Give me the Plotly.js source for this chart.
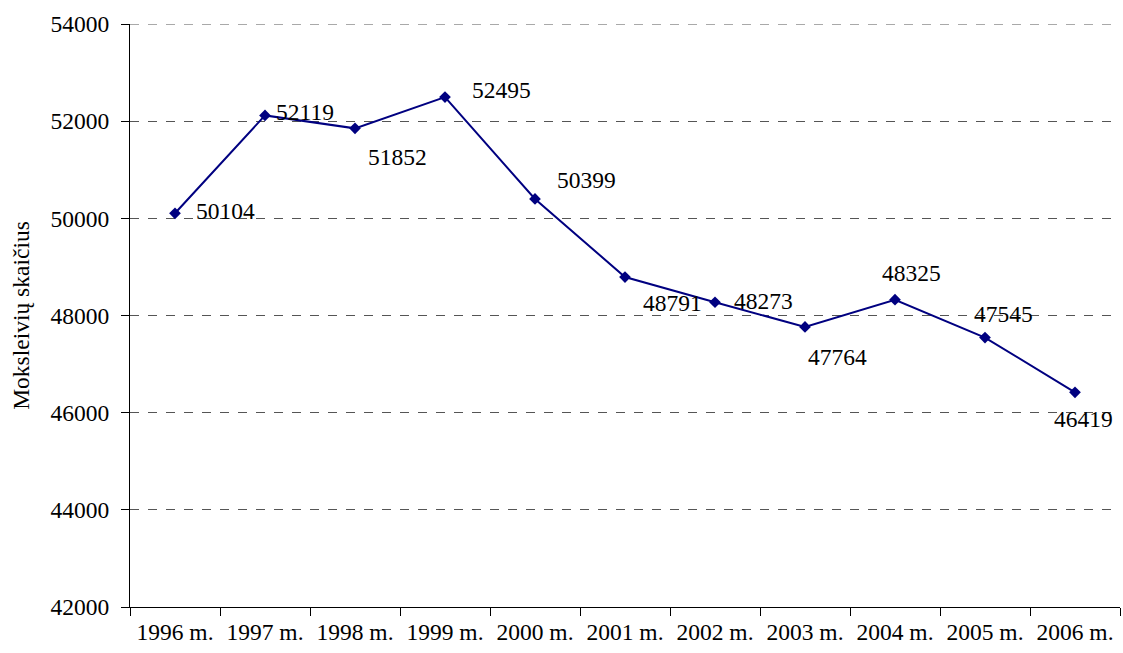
<!DOCTYPE html>
<html><head><meta charset="utf-8">
<script src="https://cdn.plot.ly/plotly-3.0.1.min.js"></script>
<style>html,body{margin:0;padding:0;background:#fff}#chart{width:1123px;height:653px}</style>
</head><body><div id="chart"></div>
<script>
const years = ['1996 m.','1997 m.','1998 m.','1999 m.','2000 m.','2001 m.','2002 m.','2003 m.','2004 m.','2005 m.','2006 m.'];
const students = [50104, 52119, 51852, 52495, 50399, 48791, 48273, 47764, 48325, 47545, 46419];
const yTicks = [42000, 44000, 46000, 48000, 50000, 52000, 54000];
// label offsets (pixels) per point
const labelDx = [50, 40, 42, 56, 51, 47, 48, 32, 16, 18, 8];
const labelDy = [2, 3, -29, 7, 19, -26, 1, -30, 27, 24, -27];

const font = {family: '"Liberation Serif", "Times New Roman", serif', size: 23.5, color: '#000'};

const annotations = students.map((v, i) => ({
  x: years[i], y: v, xref: 'x', yref: 'y', text: String(v), showarrow: false,
  xshift: labelDx[i], yshift: labelDy[i], font: font
}));

Plotly.newPlot('chart', [{
  x: years, y: students, type: 'scatter', mode: 'lines+markers',
  line: {color: '#000080', width: 2},
  marker: {symbol: 'diamond', size: 9, color: '#000080'},
  hoverinfo: 'none'
}], {
  width: 1123, height: 653,
  margin: {l: 130, r: 3, t: 24, b: 46},
  paper_bgcolor: '#fff', plot_bgcolor: '#fff',
  showlegend: false,
  font: font,
  xaxis: {
    type: 'category', tickson: 'boundaries', ticks: 'outside', ticklen: 8, tickcolor: '#000', tickwidth: 1,
    showline: true, linecolor: '#000', linewidth: 1, showgrid: false, zeroline: false,
    tickfont: font, range: [-0.5, 10.5], ticklabelstandoff: 4
  },
  yaxis: {
    range: [42000, 54000], tickvals: yTicks, ticktext: yTicks.map(String),
    ticks: 'outside', ticklen: 8, tickcolor: '#000', tickwidth: 1,
    showline: true, linecolor: '#000', linewidth: 1,
    showgrid: true, gridcolor: '#555', griddash: 'dash', gridwidth: 1, zeroline: false,
    tickfont: font, ticklabelstandoff: 7,
    title: {text: 'Moksleivių skaičius', font: font, standoff: 14}
  },
  shapes: [{type: 'line', xref: 'paper', yref: 'y', x0: 0, x1: 1, y0: yTicks[yTicks.length - 1], y1: yTicks[yTicks.length - 1],
    line: {color: '#555', width: 1, dash: 'dash'}, layer: 'below'}],
  annotations: annotations
}, {staticPlot: true});
</script></body></html>
